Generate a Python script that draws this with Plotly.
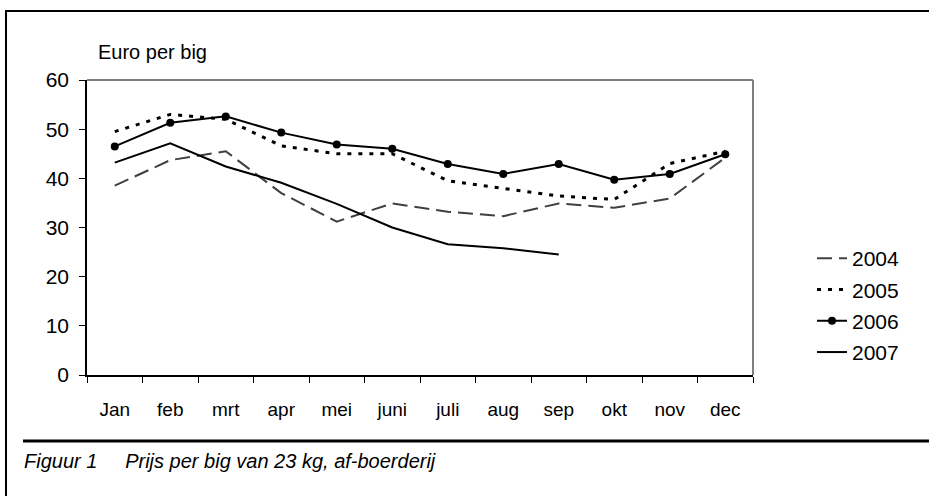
import plotly.graph_objects as go

months = ["Jan", "feb", "mrt", "apr", "mei", "juni", "juli", "aug", "sep", "okt", "nov", "dec"]

v2004 = [38.5, 43.7, 45.5, 37.0, 31.2, 34.9, 33.2, 32.3, 34.9, 34.0, 35.9, 44.2]
v2005 = [49.5, 53.0, 52.0, 46.6, 45.0, 45.0, 39.5, 38.0, 36.4, 35.7, 43.0, 45.5]
v2006 = [46.5, 51.3, 52.6, 49.3, 46.9, 46.0, 42.9, 40.9, 42.9, 39.7, 40.9, 44.9]
v2007 = [43.2, 47.1, 42.4, 39.1, 34.8, 30.0, 26.6, 25.8, 24.5]

FONT = "Liberation Sans, Arial, sans-serif"

W, H = 929, 496
L, R, T, B = 87, 753, 80, 375


def px_x(px):
    return (px - L) / (R - L)


def px_y(py):
    return (B - py) / (B - T)


fig = go.Figure()
fig.add_trace(go.Scatter(x=months, y=v2004, name="2004", mode="lines", legendgroup="a",
                         line=dict(color="#404040", width=2, dash="15px,7px")))
fig.add_trace(go.Scatter(x=months, y=v2005, name="2005", mode="lines", legendgroup="b",
                         line=dict(color="#000000", width=3, dash="4px,7px")))
fig.add_trace(go.Scatter(x=months, y=v2006, name="2006", mode="lines+markers", legendgroup="c",
                         line=dict(color="#000000", width=2),
                         marker=dict(symbol="circle", size=8, color="#000000")))
fig.add_trace(go.Scatter(x=months[:len(v2007)], y=v2007, name="2007", mode="lines", legendgroup="d",
                         line=dict(color="#000000", width=2)))

shapes = [
    # plot-area top and right border (gray)
    dict(type="line", xref="paper", yref="paper", x0=0, x1=1, y0=1, y1=1,
         line=dict(color="#808080", width=2)),
    dict(type="line", xref="paper", yref="paper", x0=1, x1=1, y0=0, y1=1,
         line=dict(color="#808080", width=2)),
    # outer frame
    dict(type="line", xref="paper", yref="paper", x0=px_x(6), x1=px_x(929), y0=px_y(11), y1=px_y(11),
         line=dict(color="#000000", width=2)),
    dict(type="line", xref="paper", yref="paper", x0=px_x(6), x1=px_x(6), y0=px_y(10), y1=px_y(496),
         line=dict(color="#000000", width=2)),
    # caption rule
    dict(type="line", xref="paper", yref="paper", x0=px_x(23), x1=px_x(929), y0=px_y(441), y1=px_y(441),
         line=dict(color="#000000", width=3)),
]

annotations = [
    dict(text="Euro per big", xref="paper", yref="paper", x=px_x(96), y=px_y(52),
         xanchor="left", yanchor="middle", showarrow=False,
         font=dict(family=FONT, size=20, color="#000000")),
    dict(text="<i>Figuur 1&nbsp;&nbsp;&nbsp;&nbsp;&nbsp;Prijs per big van 23 kg, af-boerderij</i>",
         xref="paper", yref="paper", x=px_x(22), y=px_y(461),
         xanchor="left", yanchor="middle", showarrow=False,
         font=dict(family=FONT, size=20, color="#000000")),
]

fig.update_layout(
    width=W, height=H,
    margin=dict(l=L, r=W - R, t=T, b=H - B),
    paper_bgcolor="white", plot_bgcolor="white",
    font=dict(family=FONT, color="#000000"),
    showlegend=True,
    legend=dict(x=px_x(812), y=px_y(238), xanchor="left", yanchor="top",
                font=dict(family=FONT, size=21, color="#000000"),
                bgcolor="rgba(0,0,0,0)", tracegroupgap=1),
    shapes=shapes,
    annotations=annotations,
    xaxis=dict(type="category", range=[-0.5, 11.5], showgrid=False, zeroline=False,
               showline=True, linecolor="#000000", linewidth=1.5,
               ticks="outside", ticklen=6, tickwidth=1, tickcolor="#000000",
               tickson="boundaries", ticklabelstandoff=16,
               tickfont=dict(family=FONT, size=19, color="#000000")),
    yaxis=dict(range=[0, 60], dtick=10, showgrid=False, zeroline=False,
               showline=True, linecolor="#000000", linewidth=1.5,
               ticks="outside", ticklen=6, tickwidth=1, tickcolor="#000000",
               ticklabelstandoff=6,
               tickfont=dict(family=FONT, size=21, color="#000000")),
)

fig.write_html("out.html", config={"displayModeBar": False},
               post_script="document.body.style.margin='0';")
